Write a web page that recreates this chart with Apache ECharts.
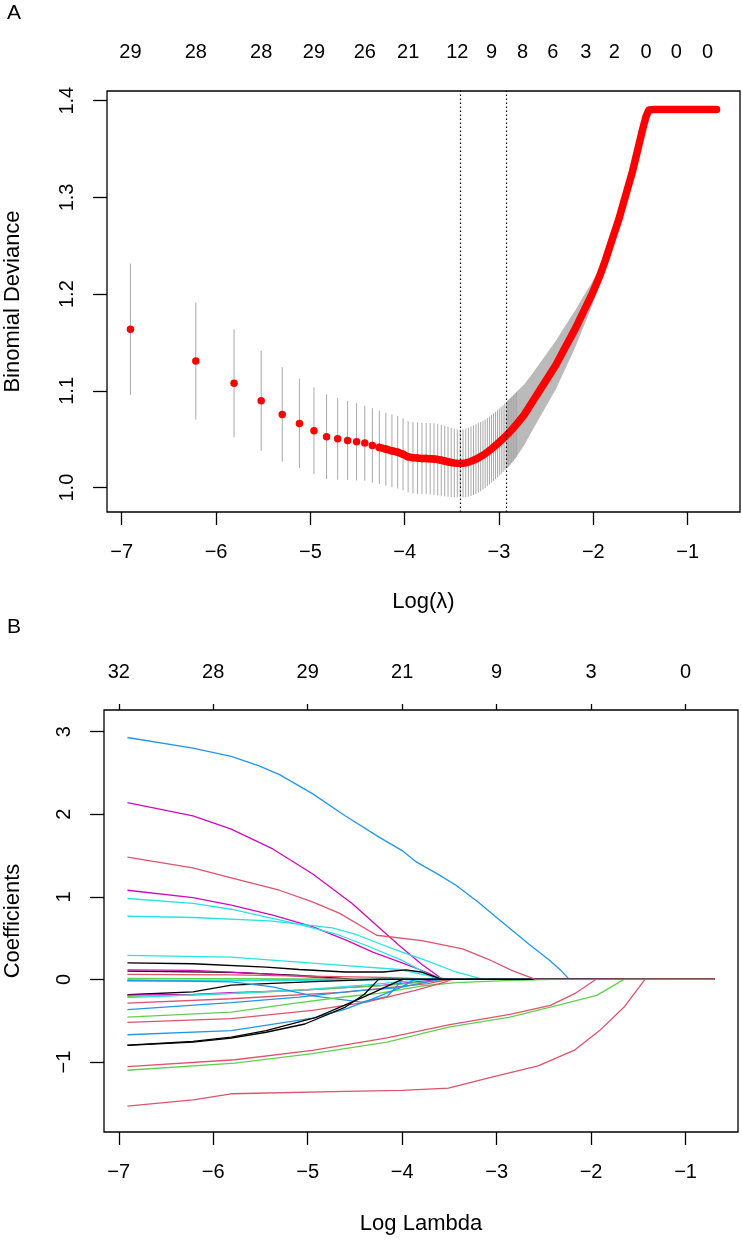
<!DOCTYPE html>
<html><head><meta charset="utf-8">
<script src="https://cdn.jsdelivr.net/npm/echarts@6/dist/echarts.min.js"></script>
<style>html,body{margin:0;padding:0;background:#fff}#chart{width:742px;height:1240px}</style>
</head><body><div id="chart"></div>
<script>
// ---------- Panel A: cross-validated binomial deviance ----------
const lambdaA = [0.001,0.002,0.003,0.004,0.005,0.006,0.007,0.008,0.009,0.010,0.011,0.012,0.013,0.014,0.015,0.016,0.017,0.018,0.019,0.020,
  0.021,0.022,0.023,0.024,0.025,0.026,0.027,0.028,0.029,0.030,0.031,0.032,0.033,0.034,0.035,0.036,0.037,0.038,0.039,0.040,
  0.041,0.042,0.043,0.044,0.045,0.046,0.047,0.048,0.049,0.050,0.051,0.052,0.053,0.054,0.055,0.056,0.057,0.058,0.059,0.060,
  0.065,0.071,0.080,0.091,0.100,0.112,0.122,0.134,0.145,0.154,0.165,0.177,0.190,0.204,0.215,0.228,0.237,0.244,0.260,0.300,0.400,0.500];
const cvmA = [1.1636,1.1308,1.1078,1.0898,1.0757,1.0664,1.0588,1.0526,1.0505,1.0488,1.0474,1.0460,1.0436,1.0416,1.0398,1.0381,1.0366,1.0344,1.0318,1.0310,
  1.0305,1.0302,1.0300,1.0298,1.0295,1.0290,1.0283,1.0275,1.0267,1.0260,1.0255,1.0251,1.0249,1.0251,1.0256,1.0263,1.0272,1.0283,1.0295,1.0308,
  1.0321,1.0335,1.0350,1.0367,1.0384,1.0401,1.0418,1.0435,1.0453,1.0471,1.0489,1.0507,1.0525,1.0543,1.0561,1.0579,1.0598,1.0617,1.0636,1.0655,
  1.0752,1.0887,1.1070,1.1267,1.1440,1.1646,1.1820,1.2008,1.2190,1.2353,1.2560,1.2766,1.3010,1.3249,1.3460,1.3697,1.3840,1.3904,1.3910,1.3910,1.3910,1.3910];
const cvsdA = [0.0679,0.0605,0.0559,0.0517,0.0488,0.0462,0.0448,0.0438,0.0424,0.0408,0.0400,0.0388,0.0385,0.0379,0.0378,0.0376,0.0374,0.0372,0.0368,0.0370,
  0.0369,0.0368,0.0368,0.0369,0.0370,0.0369,0.0367,0.0364,0.0361,0.0358,0.0355,0.0352,0.0350,0.0352,0.0354,0.0356,0.0358,0.0360,0.0360,0.0359,
  0.0358,0.0356,0.0354,0.0352,0.0351,0.0350,0.0349,0.0348,0.0347,0.0346,0.0346,0.0345,0.0345,0.0345,0.0344,0.0343,0.0341,0.0339,0.0337,0.0335,
  0.0315,0.0293,0.0272,0.0250,0.0225,0.0190,0.0160,0.0120,0.0085,0.0055,0.0030,0.0015,0,0,0,0,0,0,0,0,0,0];
const lambdaMinA = 0.033;
const lambda1seA = 0.054;
const topLambdaA = [0.001,0.002,0.004,0.007,0.012,0.019,0.032,0.046,0.064,0.088,0.125,0.169,0.237,0.326,0.454];
const topNzA = ['29','28','28','29','26','21','12','9','8','6','3','2','0','0','0'];
const yTicksA = [1.0,1.1,1.2,1.3,1.4];
const yRangeA = [0.9748, 1.410];

// ---------- Panel B: coefficient paths (log lambda, coefficient) ----------
const lambdaEnd = 0.5;
const xTicks = [-7,-6,-5,-4,-3,-2,-1];
const topDfB = ['32','28','29','21','9','3','0'];
const yTicksB = [-1,0,1,2,3];
const yRangeB = [-1.848, 3.263];
const pathColors = ['#2297E6','#CD0BBC','#CD0BBC','#28E2E5','#28E2E5','#28E2E5','#000000','#CD0BBC','#DF536B',
  '#61D04F','#61D04F','#2297E6','#28E2E5','#000000','#CD0BBC','#61D04F','#28E2E5','#DF536B','#2297E6','#2297E6',
  '#61D04F','#DF536B','#2297E6','#000000','#000000','#DF536B','#61D04F','#DF536B','#000000','#DF536B'];
const coefPaths = [
  [[-6.908,2.93],[-6.215,2.80],[-5.809,2.70],[-5.521,2.59],[-5.298,2.48],[-4.95,2.25],[-4.6,1.98],[-4.24,1.72],[-4.0,1.56],[-3.86,1.43],[-3.6,1.26],[-3.43,1.14],[-3.2,0.94],[-3.01,0.76],[-2.66,0.43],[-2.45,0.24],[-2.32,0.11],[-2.23,0]],
  [[-6.908,2.14],[-6.215,1.98],[-5.809,1.82],[-5.37,1.58],[-4.95,1.28],[-4.53,0.92],[-4.04,0.42],[-3.8,0.19],[-3.57,0]],
  [[-6.908,1.08],[-6.215,0.99],[-5.809,0.90],[-5.37,0.78],[-4.95,0.64],[-4.6,0.48],[-4.31,0.33],[-4.0,0.20],[-3.75,0.09],[-3.58,0]],
  [[-6.908,0.98],[-6.215,0.92],[-5.809,0.85],[-5.1,0.67],[-4.7,0.55],[-4.4,0.42],[-4.0,0.23],[-3.82,0.12],[-3.64,0]],
  [[-6.908,0.765],[-6.215,0.75],[-5.4,0.71],[-4.74,0.625],[-4.5,0.55],[-4.28,0.45],[-4.0,0.33],[-3.75,0.23],[-3.43,0.09],[-3.14,0]],
  [[-6.908,0.29],[-5.809,0.27],[-5.09,0.21],[-4.74,0.18],[-4.03,0.12],[-3.68,0.036],[-3.5,0]],
  [[-6.908,0.10],[-5.809,0.085],[-5.09,0.05],[-4.74,0.02],[-4.5,0]],
  [[-6.908,0.115],[-6.215,0.11],[-5.5,0.07],[-5.0,0.03],[-4.6,0]],
  [[-6.908,0.06],[-5.809,0.055],[-5.0,0.04],[-4.2,0.025],[-3.6,0]],
  [[-6.908,0.012],[-5.0,0.006],[-4.3,0]],
  [[-6.908,-0.008],[-5.0,-0.005],[-4.1,0]],
  [[-6.908,-0.015],[-5.5,-0.012],[-4.5,-0.005],[-4.0,0]],
  [[-6.908,-0.02],[-5.0,-0.01],[-4.2,0]],
  [[-6.908,-0.186],[-6.215,-0.15],[-5.809,-0.07],[-5.0,-0.03],[-4.27,0]],
  [[-6.908,-0.19],[-6.215,-0.18],[-5.809,-0.16],[-5.09,-0.133],[-4.21,-0.073],[-3.6,0]],
  [[-6.908,-0.206],[-6.215,-0.19],[-5.47,-0.154],[-4.16,-0.073],[-3.45,0]],
  [[-6.908,-0.22],[-5.809,-0.17],[-5.0,-0.12],[-4.3,-0.06],[-3.75,0]],
  [[-6.908,-0.287],[-5.809,-0.234],[-4.6,-0.154],[-3.73,-0.05],[-3.5,0]],
  [[-6.908,-0.365],[-5.809,-0.28],[-5.09,-0.214],[-4.5,-0.14],[-4.03,-0.10],[-3.6,0]],
  [[-6.908,-0.01],[-5.809,-0.03],[-5.37,-0.09],[-4.95,-0.2],[-4.43,-0.275],[-4.16,-0.21],[-3.99,0]],
  [[-6.908,-0.457],[-5.809,-0.396],[-5.09,-0.28],[-4.6,-0.21],[-4.25,-0.17],[-3.8,-0.08],[-3.43,-0.04],[-2.9,-0.015],[-2.42,0]],
  [[-6.908,-0.521],[-5.809,-0.476],[-4.95,-0.376],[-4.38,-0.275],[-3.86,-0.133],[-3.54,-0.03],[-3.48,0]],
  [[-6.908,-0.67],[-5.809,-0.62],[-4.95,-0.47],[-4.6,-0.36],[-4.3,-0.23],[-4.0,-0.09],[-3.87,0]],
  [[-6.908,-0.80],[-6.215,-0.76],[-5.809,-0.71],[-5.44,-0.64],[-5.03,-0.54],[-4.6,-0.335],[-4.4,-0.18],[-4.25,0]],
  [[-6.908,-0.795],[-6.215,-0.75],[-5.809,-0.70],[-5.44,-0.62],[-4.91,-0.46],[-4.38,-0.20],[-4.0,0]],
  [[-6.908,-1.055],[-5.77,-0.973],[-4.95,-0.86],[-4.16,-0.707],[-3.51,-0.55],[-2.86,-0.424],[-2.43,-0.315],[-2.17,-0.17],[-1.95,0]],
  [[-6.908,-1.10],[-5.77,-1.015],[-4.95,-0.90],[-4.16,-0.76],[-3.51,-0.578],[-2.86,-0.457],[-2.43,-0.335],[-1.94,-0.194],[-1.65,0]],
  [[-6.908,-1.535],[-6.215,-1.46],[-5.809,-1.385],[-4.6,-1.355],[-4.0,-1.345],[-3.51,-1.317],[-3.04,-1.18],[-2.56,-1.047],[-2.17,-0.853],[-1.91,-0.62],[-1.65,-0.335],[-1.43,0]],
  [[-6.908,0.20],[-6.215,0.19],[-5.44,0.15],[-5.09,0.12],[-4.6,0.09],[-4.2,0.09],[-3.96,0.115],[-3.8,0.09],[-3.58,0]],
  [[-6.908,1.48],[-6.215,1.35],[-5.809,1.23],[-5.3,1.08],[-4.95,0.94],[-4.66,0.80],[-4.27,0.535],[-3.79,0.47],[-3.36,0.37],[-3.1,0.25],[-2.84,0.11],[-2.59,0]]
];

// ---------- build ----------
const FONT = 'Liberation Sans';
const TXT = {color:'#000', fontFamily: FONT, fontSize: 20};
const minus = v => String(v).replace('-', '\u2212');
const logStart = Math.log(lambdaA[0]), logEnd = Math.log(lambdaEnd);
const pad = 0.04 * (logEnd - logStart);
const XMIN = logStart - pad, XMAX = logEnd + pad;

const ptsA = lambdaA.map((l, i) => ({x: Math.log(l), m: cvmA[i], s: cvsdA[i], l}));
const barData = ptsA.filter(p => p.l <= 0.0605).map(p => [p.x, p.m - p.s, p.m + p.s]);
const bandData = ptsA.filter(p => p.l >= 0.0535).map(p => [p.x, p.m - p.s, p.m + p.s]);
const redLine = ptsA.filter(p => p.l >= 0.0135).map(p => [p.x, p.m]);
const redDots = ptsA.filter(p => p.l <= 0.0305).map(p => [p.x, p.m]);
const topLogA = topLambdaA.map(Math.log);

const tickStyle = {lineStyle: {color: '#000', width: 1.3}};
function xAxisBottom(grid, name, gap) {
  return {type:'value', gridIndex: grid, position:'bottom', min: XMIN, max: XMAX,
    axisLine:{show:false, onZero:false}, splitLine:{show:false},
    axisTick:{show:true, customValues: xTicks, length: 13, ...tickStyle},
    axisLabel:{customValues: xTicks, margin: 30, formatter: v => minus(Math.round(v)), ...TXT},
    name, nameLocation:'middle', nameGap: gap, nameTextStyle:{...TXT, fontSize: 22}};
}

const series = [];
// error bars (panel A)
series.push({type:'custom', xAxisIndex:0, yAxisIndex:0, data: barData, silent:true, z:2,
  encode:{x:0, y:[1,2]},
  renderItem:(params, api) => {
    const a = api.coord([api.value(0), api.value(1)]);
    const b = api.coord([api.value(0), api.value(2)]);
    return {type:'line', shape:{x1:a[0], y1:a[1], x2:b[0], y2:b[1]}, style:{stroke:'#A9A9A9', lineWidth:1}};
  }});
// dense error bar band (panel A)
series.push({type:'custom', xAxisIndex:0, yAxisIndex:0, data: bandData, silent:true, z:2,
  encode:{x:0, y:[1,2]},
  renderItem:(params, api) => {
    if (params.dataIndex !== 0) return null;
    const up = bandData.map(d => api.coord([d[0], d[2]]));
    const lo = bandData.map(d => api.coord([d[0], d[1]])).reverse();
    return {type:'polygon', shape:{points: up.concat(lo)}, style:{fill:'#A9A9A9', opacity:0.8}};
  }});
series.push({type:'line', xAxisIndex:0, yAxisIndex:0, data: redLine, showSymbol:false, symbol:'none', z:3,
  lineStyle:{color:'#FF0000', width:7.5, cap:'round', join:'round'}, silent:true});
series.push({type:'scatter', xAxisIndex:0, yAxisIndex:0, data: redDots, symbolSize:7.5, z:3,
  itemStyle:{color:'#FF0000', opacity:1}, silent:true});
series.push({type:'line', xAxisIndex:0, yAxisIndex:0, data: [], z:5, silent:true,
  markLine:{silent:true, symbol:['none','none'], label:{show:false}, animation:false,
    lineStyle:{color:'#000', width:1.2, type:[1.5,2.5]},
    data:[{xAxis: Math.log(lambdaMinA)}, {xAxis: Math.log(lambda1seA)}]}});
// coefficient paths (panel B)
coefPaths.forEach((p, i) => {
  series.push({type:'line', xAxisIndex:2, yAxisIndex:1, data: p.concat([[logEnd, 0]]),
    showSymbol:false, symbol:'none', silent:true, z:2,
    lineStyle:{color: pathColors[i], width:1.3}});
});

const option = {
  animation:false,
  backgroundColor:'#fff',
  grid:[
    {left:107, top:91, width:633, height:421, show:true, borderColor:'#000', borderWidth:1.3, outerBoundsMode:'none'},
    {left:104, top:710, width:634, height:422, show:true, borderColor:'#000', borderWidth:1.3, outerBoundsMode:'none'}
  ],
  xAxis:[
    xAxisBottom(0, 'Log(\u03BB)', 79),
    {type:'value', gridIndex:0, position:'top', min:XMIN, max:XMAX,
      axisLine:{show:false, onZero:false}, splitLine:{show:false}, axisTick:{show:false},
      axisLabel:{customValues: topLogA, margin: 29, ...TXT,
        formatter: v => { let b = 0; topLogA.forEach((t, i) => { if (Math.abs(t - v) < Math.abs(topLogA[b] - v)) b = i; }); return topNzA[b]; }}},
    xAxisBottom(1, 'Log Lambda', 81),
    {type:'value', gridIndex:1, position:'top', min:XMIN, max:XMAX,
      axisLine:{show:false, onZero:false}, splitLine:{show:false},
      axisTick:{show:true, customValues: xTicks, length: 6, ...tickStyle},
      axisLabel:{customValues: xTicks, margin: 28, ...TXT,
        formatter: v => topDfB[xTicks.indexOf(Math.round(v))]}}
  ],
  yAxis:[
    {type:'value', gridIndex:0, min:yRangeA[0], max:yRangeA[1],
      axisLine:{show:false, onZero:false}, splitLine:{show:false},
      axisTick:{show:true, customValues: yTicksA, length: 14, ...tickStyle},
      axisLabel:{customValues: yTicksA, rotate:90, margin: 30, formatter: v => v.toFixed(1), ...TXT},
      name:'Binomial Deviance', nameLocation:'middle', nameGap: 83, nameTextStyle:{...TXT, fontSize:22}},
    {type:'value', gridIndex:1, min:yRangeB[0], max:yRangeB[1],
      axisLine:{show:false, onZero:false}, splitLine:{show:false},
      axisTick:{show:true, customValues: yTicksB, length: 14, ...tickStyle},
      axisLabel:{customValues: yTicksB, rotate:90, margin: 30, formatter: v => minus(Math.round(v)), ...TXT},
      name:'Coefficients', nameLocation:'middle', nameGap: 80, nameTextStyle:{...TXT, fontSize:22}}
  ],
  graphic:[
    {type:'text', left:7, top:3, style:{text:'A', fontSize:21, fontFamily:FONT, fill:'#000'}},
    {type:'text', left:7, top:617, style:{text:'B', fontSize:21, fontFamily:FONT, fill:'#000'}}
  ],
  series
};
const chart = echarts.init(document.getElementById('chart'), null, {renderer:'canvas'});
chart.setOption(option);
</script></body></html>
